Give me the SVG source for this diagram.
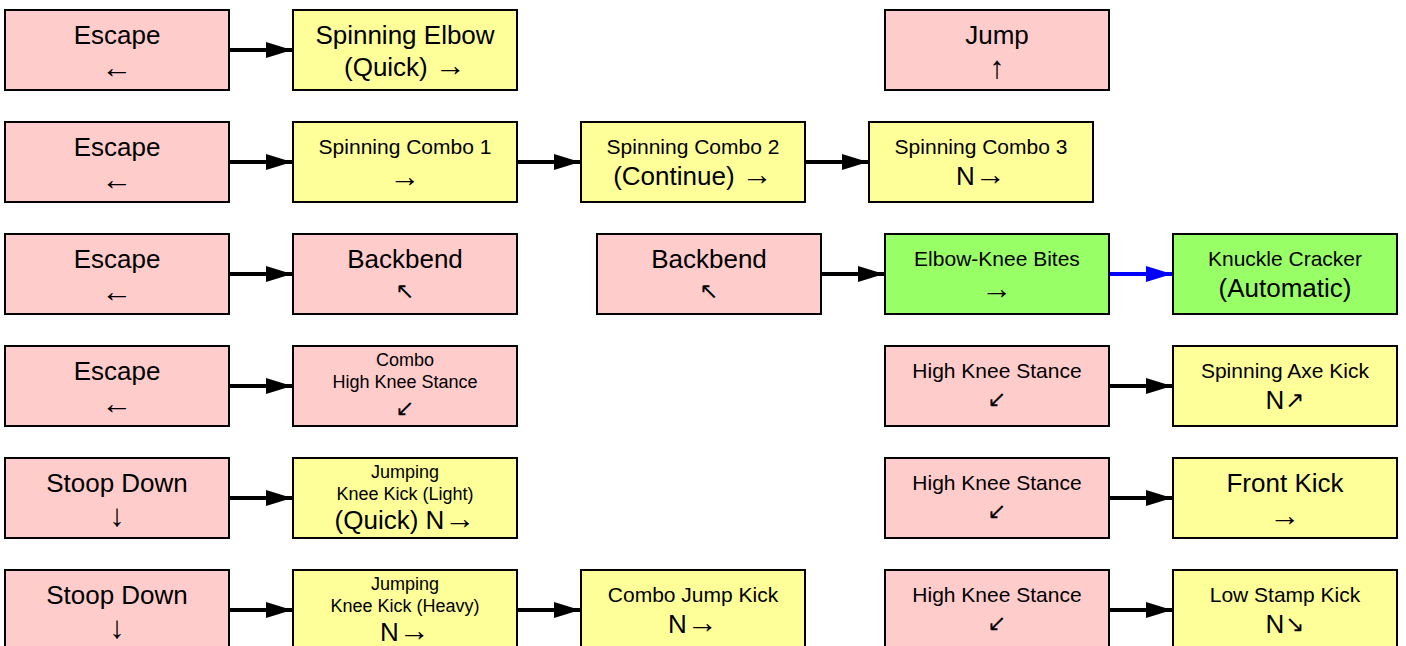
<svg xmlns="http://www.w3.org/2000/svg" width="1406" height="646" viewBox="0 0 1406 646">
  <style>
    .box { stroke: #000; stroke-width: 2; }
    .pink { fill: #FFCCCC; }
    .yellow { fill: #FFFF99; }
    .green { fill: #99FF66; }
    text { font-family: "Liberation Sans", Arial, sans-serif; fill: #000; text-anchor: middle; }
    .lg { font-size: 26px; }
    .md { font-size: 21px; }
    .sm { font-size: 18px; }
    .ar { font-size: 31px; }
    .dg { font-family: "DejaVu Sans", sans-serif; font-size: 23px; }
    .link { stroke: #000; stroke-width: 4; fill: none; marker-end: url(#head); }
    .link.auto { stroke: #0000FF; marker-end: url(#headBlue); }
  </style>
  <defs>
    <marker id="head" markerUnits="userSpaceOnUse" markerWidth="26" markerHeight="16" refX="26" refY="8" orient="auto">
      <path d="M0,0 L26,8 L0,16 z" fill="#000"/>
    </marker>
    <marker id="headBlue" markerUnits="userSpaceOnUse" markerWidth="26" markerHeight="16" refX="26" refY="8" orient="auto">
      <path d="M0,0 L26,8 L0,16 z" fill="#0000FF"/>
    </marker>
  </defs>

  <rect width="1406" height="646" fill="#FFFFFF"/>

  <!-- connectors -->
  <g id="connectors">
    <line class="link" x1="230" y1="50" x2="292" y2="50"/>
    <line class="link" x1="230" y1="162" x2="292" y2="162"/>
    <line class="link" x1="518" y1="162" x2="580" y2="162"/>
    <line class="link" x1="806" y1="162" x2="868" y2="162"/>
    <line class="link" x1="230" y1="274" x2="292" y2="274"/>
    <line class="link" x1="822" y1="274" x2="884" y2="274"/>
    <line class="link auto" x1="1110" y1="274" x2="1172" y2="274"/>
    <line class="link" x1="230" y1="386" x2="292" y2="386"/>
    <line class="link" x1="1110" y1="386" x2="1172" y2="386"/>
    <line class="link" x1="230" y1="498" x2="292" y2="498"/>
    <line class="link" x1="1110" y1="498" x2="1172" y2="498"/>
    <line class="link" x1="230" y1="610" x2="292" y2="610"/>
    <line class="link" x1="518" y1="610" x2="580" y2="610"/>
    <line class="link" x1="1110" y1="610" x2="1172" y2="610"/>
  </g>

  <!-- row 1 -->
  <g id="escape1">
    <rect class="box pink" x="5" y="10" width="224" height="80"/>
    <text class="lg" x="117" y="44">Escape</text>
    <text class="ar" x="117" y="78">←</text>
  </g>
  <g id="spinning-elbow">
    <rect class="box yellow" x="293" y="10" width="224" height="80"/>
    <text class="lg" x="405" y="44">Spinning Elbow</text>
    <text class="lg" x="405" y="76">(Quick) <tspan class="ar">→</tspan></text>
  </g>
  <g id="jump">
    <rect class="box pink" x="885" y="10" width="224" height="80"/>
    <text class="lg" x="997" y="44">Jump</text>
    <text class="ar" x="997" y="78">↑</text>
  </g>

  <!-- row 2 -->
  <g id="escape2">
    <rect class="box pink" x="5" y="122" width="224" height="80"/>
    <text class="lg" x="117" y="156">Escape</text>
    <text class="ar" x="117" y="190">←</text>
  </g>
  <g id="spinning-combo-1">
    <rect class="box yellow" x="293" y="122" width="224" height="80"/>
    <text class="md" x="405" y="154">Spinning Combo 1</text>
    <text class="ar" x="405" y="187">→</text>
  </g>
  <g id="spinning-combo-2">
    <rect class="box yellow" x="581" y="122" width="224" height="80"/>
    <text class="md" x="693" y="154">Spinning Combo 2</text>
    <text class="lg" x="693" y="185">(Continue) <tspan class="ar">→</tspan></text>
  </g>
  <g id="spinning-combo-3">
    <rect class="box yellow" x="869" y="122" width="224" height="80"/>
    <text class="md" x="981" y="154">Spinning Combo 3</text>
    <text class="lg" x="981" y="185">N<tspan class="ar">→</tspan></text>
  </g>

  <!-- row 3 -->
  <g id="escape3">
    <rect class="box pink" x="5" y="234" width="224" height="80"/>
    <text class="lg" x="117" y="268">Escape</text>
    <text class="ar" x="117" y="302">←</text>
  </g>
  <g id="backbend1">
    <rect class="box pink" x="293" y="234" width="224" height="80"/>
    <text class="lg" x="405" y="268">Backbend</text>
    <text class="dg" x="405" y="299">↖</text>
  </g>
  <g id="backbend2">
    <rect class="box pink" x="597" y="234" width="224" height="80"/>
    <text class="lg" x="709" y="268">Backbend</text>
    <text class="dg" x="709" y="299">↖</text>
  </g>
  <g id="elbow-knee-bites">
    <rect class="box green" x="885" y="234" width="224" height="80"/>
    <text class="md" x="997" y="266">Elbow-Knee Bites</text>
    <text class="ar" x="997" y="299">→</text>
  </g>
  <g id="knuckle-cracker">
    <rect class="box green" x="1173" y="234" width="224" height="80"/>
    <text class="md" x="1285" y="266">Knuckle Cracker</text>
    <text class="lg" x="1285" y="297">(Automatic)</text>
  </g>

  <!-- row 4 -->
  <g id="escape4">
    <rect class="box pink" x="5" y="346" width="224" height="80"/>
    <text class="lg" x="117" y="380">Escape</text>
    <text class="ar" x="117" y="414">←</text>
  </g>
  <g id="combo-high-knee-stance">
    <rect class="box pink" x="293" y="346" width="224" height="80"/>
    <text class="sm" x="405" y="366">Combo</text>
    <text class="sm" x="405" y="388">High Knee Stance</text>
    <text class="dg" x="405" y="416">↙</text>
  </g>
  <g id="high-knee-stance1">
    <rect class="box pink" x="885" y="346" width="224" height="80"/>
    <text class="md" x="997" y="378">High Knee Stance</text>
    <text class="dg" x="997" y="407">↙</text>
  </g>
  <g id="spinning-axe-kick">
    <rect class="box yellow" x="1173" y="346" width="224" height="80"/>
    <text class="md" x="1285" y="378">Spinning Axe Kick</text>
    <text class="lg" x="1285" y="409">N<tspan class="dg" dx="1" dy="-1">↗</tspan></text>
  </g>

  <!-- row 5 -->
  <g id="stoop-down1">
    <rect class="box pink" x="5" y="458" width="224" height="80"/>
    <text class="lg" x="117" y="492">Stoop Down</text>
    <text class="ar" x="117" y="526">↓</text>
  </g>
  <g id="jumping-knee-kick-light">
    <rect class="box yellow" x="293" y="458" width="224" height="80"/>
    <text class="sm" x="405" y="478">Jumping</text>
    <text class="sm" x="405" y="500">Knee Kick (Light)</text>
    <text class="lg" x="405" y="529">(Quick) N<tspan class="ar">→</tspan></text>
  </g>
  <g id="high-knee-stance2">
    <rect class="box pink" x="885" y="458" width="224" height="80"/>
    <text class="md" x="997" y="490">High Knee Stance</text>
    <text class="dg" x="997" y="519">↙</text>
  </g>
  <g id="front-kick">
    <rect class="box yellow" x="1173" y="458" width="224" height="80"/>
    <text class="lg" x="1285" y="492">Front Kick</text>
    <text class="ar" x="1285" y="526">→</text>
  </g>

  <!-- row 6 -->
  <g id="stoop-down2">
    <rect class="box pink" x="5" y="570" width="224" height="80"/>
    <text class="lg" x="117" y="604">Stoop Down</text>
    <text class="ar" x="117" y="638">↓</text>
  </g>
  <g id="jumping-knee-kick-heavy">
    <rect class="box yellow" x="293" y="570" width="224" height="80"/>
    <text class="sm" x="405" y="590">Jumping</text>
    <text class="sm" x="405" y="612">Knee Kick (Heavy)</text>
    <text class="lg" x="405" y="641">N<tspan class="ar">→</tspan></text>
  </g>
  <g id="combo-jump-kick">
    <rect class="box yellow" x="581" y="570" width="224" height="80"/>
    <text class="md" x="693" y="602">Combo Jump Kick</text>
    <text class="lg" x="693" y="633">N<tspan class="ar">→</tspan></text>
  </g>
  <g id="high-knee-stance3">
    <rect class="box pink" x="885" y="570" width="224" height="80"/>
    <text class="md" x="997" y="602">High Knee Stance</text>
    <text class="dg" x="997" y="631">↙</text>
  </g>
  <g id="low-stamp-kick">
    <rect class="box yellow" x="1173" y="570" width="224" height="80"/>
    <text class="md" x="1285" y="602">Low Stamp Kick</text>
    <text class="lg" x="1285" y="633">N<tspan class="dg" dx="1" dy="-1">↘</tspan></text>
  </g>
</svg>
